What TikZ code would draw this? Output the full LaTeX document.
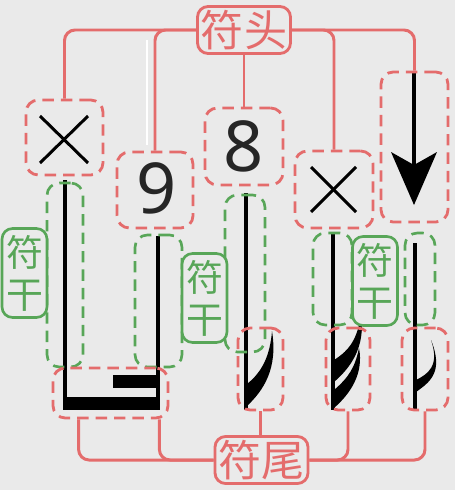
\documentclass[tikz,border=0pt]{standalone}
\usepackage{fontspec}
\newfontfamily\cjk{Noto Sans CJK SC}
\newfontfamily\digitfont{Noto Sans}
\usetikzlibrary{positioning,fit,calc}

\definecolor{headred}{RGB}{228,108,108}
\definecolor{stemgreen}{RGB}{88,166,88}
\definecolor{bgray}{RGB}{234,234,234}

\begin{document}
\begin{tikzpicture}[x=0.02cm, y=-0.02cm]

 \tikzset{
   partbox/.style={draw=headred, dash pattern=on 6.5pt off 4pt, line width=1.6pt, rounded corners=7pt, inner sep=0pt},
   stembox/.style={draw=stemgreen, dash pattern=on 6.5pt off 4pt, line width=1.5pt, rounded corners=7pt, inner sep=0pt},
   headlabel/.style={draw=headred, line width=1.6pt, rounded corners=6pt, fill=bgray, text=headred, font=\cjk\fontsize{24.5}{26}\selectfont, minimum width=1.86cm, minimum height=0.94cm, inner sep=1pt},
   stemlabel/.style={draw=stemgreen, line width=1.5pt, rounded corners=6pt, fill=bgray, text=stemgreen, font=\cjk\fontsize{21}{24}\selectfont, align=center, minimum width=0.9cm, minimum height=1.78cm, inner sep=1pt},
   link/.style={draw=headred, line width=1.7pt, rounded corners=6pt},
   digit/.style={font=\digitfont\fontsize{40}{40}\selectfont, text=black!85, inner sep=0pt},
   stem/.style={line width=2.3pt, black},
   cross/.style={line width=1.7pt, black},
   flag/.style={fill=black, draw=none}
 }

 % Stem positions
 \def\xStemA{65}
 \def\xStemB{158}
 \def\xStemC{246}
 \def\xStemD{333}
 \def\xStemE{415}
 \def\yFoot{410}

 % Background
 \useasboundingbox (0,0) rectangle (455,490);
 \fill[bgray] (0,0) rectangle (455,490);

 % Stems and beams
 \draw[stem] (\xStemA,180) -- (\xStemA,\yFoot);
 \draw[stem] (\xStemB,236) -- (\xStemB,\yFoot);
 \draw[stem] (\xStemC,193) -- (\xStemC,\yFoot);
 \draw[stem] (\xStemD,233) -- (\xStemD,\yFoot);
 \draw[stem] (\xStemE,243) -- (\xStemE,\yFoot);
 \fill (63,397) rectangle (160,\yFoot);
 \fill (113,375) rectangle (159,388);
 \draw[white, line width=1.2pt] (147,40) -- (147,145);

 % Flags
 \path[flag] (247,406) .. controls (264,390) and (278,368) .. (272,331)
   .. controls (270,356) and (262,372) .. (247,384) -- cycle;
 \path[flag] (334,382) .. controls (350,368) and (366,348) .. (361,313)
   .. controls (358,338) and (350,350) .. (334,360) -- cycle;
 \path[flag] (334,408) .. controls (350,394) and (364,374) .. (359,348)
   .. controls (355,368) and (348,378) .. (334,390) -- cycle;
 \path[flag] (416,392) .. controls (430,382) and (444,372) .. (431,340)
   .. controls (440,366) and (428,374) .. (416,380) -- cycle;

 % Note heads
 \draw[cross] (40,116) -- (88,163);
 \draw[cross] (88,116) -- (40,163);
 \draw[cross] (311,167) -- (356,212);
 \draw[cross] (356,167) -- (311,212);
 \draw[line width=2pt] (414,72) -- (414,170);
 \fill (391,152) -- (414,165) -- (437,152) -- (414,205) -- cycle;

 % Head boxes
 \node[partbox, fit={(26,100) (103,175)}] (xone) {};
 \node[partbox, fit={(117,152) (193,228)}] (ninebox) {};
 \node[partbox, fit={(205,108) (283,185)}] (eightbox) {};
 \node[partbox, fit={(295,151) (373,228)}] (xtwo) {};
 \node[partbox, fit={(381,72) (448,222)}] (arrowbox) {};
 \node[digit] (nine) at ($(ninebox.center)+(2,-2)$) {9};
 \node[digit] (eight) at (eightbox.center) {8};

 % Stem boxes
 \node[stembox, fit={(47,183) (83,367)}] (stemA) {};
 \node[stembox, fit={(135,235) (182,367)}] (stemB) {};
 \node[stembox, fit={(225,195) (265,352)}] (stemC) {};
 \node[stembox, fit={(313,233) (352,325)}] (stemD) {};
 \node[stembox, fit={(405,233) (435,325)}] (stemE) {};

 % Flag boxes
 \node[partbox, fit={(53,368) (168,418)}] (beambox) {};
 \node[partbox, fit={(238,328) (283,410)}] (flagtwo) {};
 \node[partbox, fit={(326,328) (370,410)}] (flagthree) {};
 \node[partbox, fit={(402,328) (448,410)}] (flagfour) {};

 % Labels
 \node[headlabel] (head) at (244,30) {符头};
 \node[headlabel] (tail) at (261.5,460) {符尾};
 \node[stemlabel] (labelA) at (24.5,273) {符\\干};
 \node[stemlabel] (labelB) at (204.5,298) {符\\干};
 \node[stemlabel] (labelC) at (375,281) {符\\干};

 % Links
 \draw[link] (head.west) -| (xone.north);
 \draw[link] (head.west) -| (ninebox.north);
 \draw[link] (head.south) -- (eightbox.north);
 \draw[link] (head.east) -| (xtwo.north);
 \draw[link] (head.east) -| (arrowbox.north);
 \draw[link] (tail.west) -| ($(beambox.south west)+(27,0)$);
 \draw[link] (tail.west) -| ($(beambox.south east)+(-10,0)$);
 \draw[link] (flagtwo.south) -- (flagtwo.south |- tail.north);
 \draw[link] (tail.east) -| (flagthree.south);
 \draw[link] (tail.east) -| (flagfour.south);

\end{tikzpicture}
\end{document}
